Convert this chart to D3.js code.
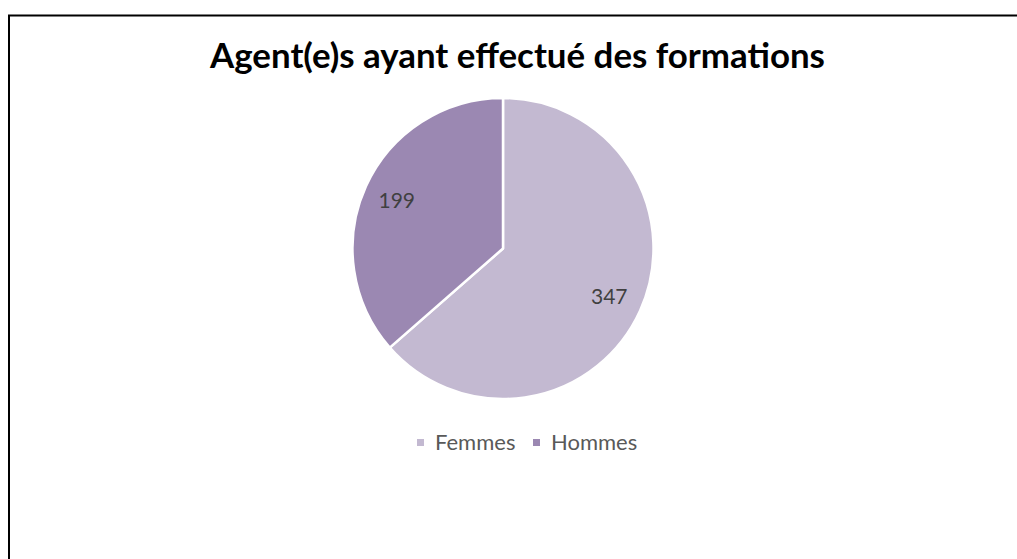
<!DOCTYPE html>
<html lang="fr">
<head>
<meta charset="UTF-8">
<title>Agent(e)s ayant effectué des formations</title>
<style>
  html, body { margin: 0; padding: 0; background: #fff; }
  svg { display: block; }
</style>
</head>
<body>
<div id="chart"></div>
<script src="https://cdn.jsdelivr.net/npm/d3@7"></script>
<script>
  // data
  const categories = ["Femmes", "Hommes"];
  const values = [347, 199];
  const colors = ["#C3B9D1", "#9B88B2"];
  const title = "Agent(e)s ayant effectué des formations";

  const W = 1017, H = 559;
  const cx = 503, cy = 248.5, R = 150.5;

  const svg = d3.select("#chart").append("svg")
    .attr("width", W)
    .attr("height", H);

  svg.append("rect").attr("width", W).attr("height", H).attr("fill", "#fff");

  // frame (runs off the right and bottom)
  svg.append("rect")
    .attr("x", 9).attr("y", 15.5)
    .attr("width", W + 20).attr("height", H + 20)
    .attr("fill", "none")
    .attr("stroke", "#000")
    .attr("stroke-width", 2);

  // title, sized to the reference width
  const t = svg.append("text")
    .attr("x", 517.5).attr("y", 68)
    .attr("text-anchor", "middle")
    .attr("font-family", "Lato, 'Open Sans', sans-serif")
    .attr("font-weight", "bold")
    .attr("font-size", 30)
    .attr("fill", "#000")
    .text(title);
  const tw = t.node().getComputedTextLength();
  t.attr("font-size", 30 * 615 / tw);

  const data = categories.map((c, i) => ({ name: c, value: values[i] }));

  const color = d3.scaleOrdinal().domain(categories).range(colors);

  const pie = d3.pie().value(d => d.value).sort(null);
  const arc = d3.arc().innerRadius(0).outerRadius(R);
  const labelArc = d3.arc().innerRadius(R * 0.775).outerRadius(R * 0.775);

  const g = svg.append("g").attr("transform", `translate(${cx},${cy})`);

  g.selectAll("path")
    .data(pie(data))
    .enter()
    .append("path")
    .attr("d", arc)
    .attr("fill", d => color(d.data.name))
    .attr("stroke", "#fff")
    .attr("stroke-width", 2.5)
    .attr("stroke-linejoin", "round");

  g.selectAll(".lbl")
    .data(pie(data))
    .enter()
    .append("text")
    .attr("class", "lbl")
    .attr("transform", d => `translate(${labelArc.centroid(d)})`)
    .attr("dy", "0.36em")
    .attr("text-anchor", "middle")
    .attr("font-family", "Lato, 'Open Sans', sans-serif")
    .attr("font-size", 21)
    .attr("fill", "#404040")
    .text(d => d.value);

  // legend
  const legendX = [417, 533];
  const leg = svg.append("g");
  categories.forEach((c, i) => {
    leg.append("rect")
      .attr("x", legendX[i]).attr("y", 439)
      .attr("width", 7).attr("height", 7)
      .attr("fill", color(c));
    leg.append("text")
      .attr("x", legendX[i] + 18).attr("y", 450)
      .attr("font-family", "Lato, 'Open Sans', sans-serif")
      .attr("font-size", 22)
      .attr("fill", "#595959")
      .text(c);
  });
</script>
</body>
</html>
